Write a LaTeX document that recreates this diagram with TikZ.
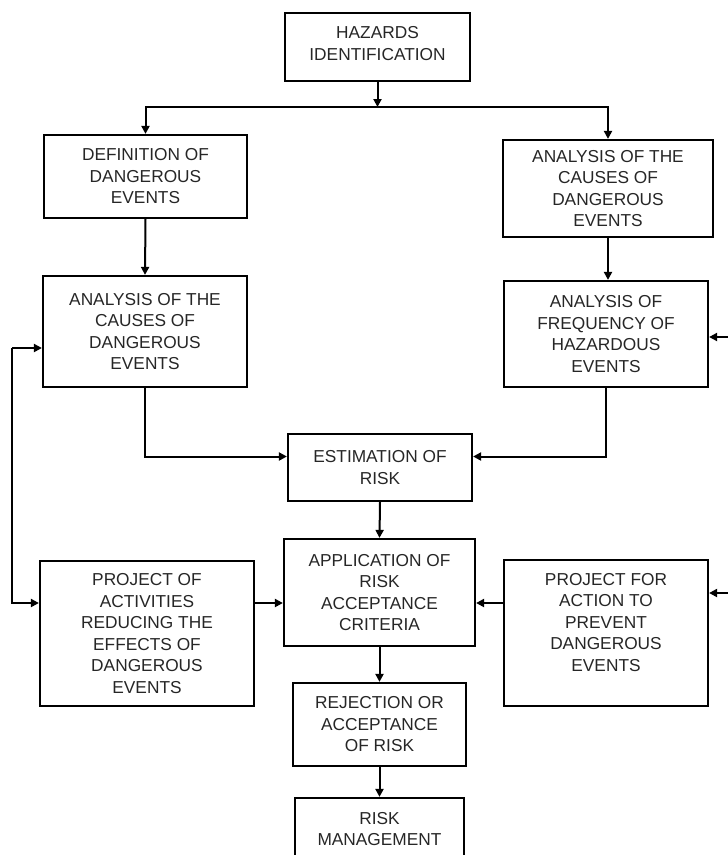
\documentclass[tikz,border=0pt]{standalone}
\usepackage{fontspec}
\setmainfont{Liberation Sans}
\usetikzlibrary{arrows.meta}
\begin{document}
\begin{tikzpicture}[x=1pt,y=-1pt,
  box/.style={draw, line width=2.2pt, align=center, inner sep=0pt,
    font=\fontsize{17.3}{21.5}\selectfont, text=black!85},
  arr/.style={line width=2pt, -{Triangle[length=8pt,width=8pt]}},
  ln/.style={line width=2pt}]
\useasboundingbox (0,0) rectangle (728,855);
\clip (0,0) rectangle (728,855);

\node[box, minimum width=185, minimum height=68, text depth=7pt] (haz) at (377.5,47) {HAZARDS\\IDENTIFICATION};
\node[box, minimum width=203, minimum height=83] (def) at (145.5,176.5) {DEFINITION OF\\DANGEROUS\\EVENTS};
\node[box, minimum width=210, minimum height=97] (car) at (608,188.5) {ANALYSIS OF THE\\CAUSES OF\\DANGEROUS\\EVENTS};
\node[box, minimum width=204, minimum height=111] (cal) at (145,331.5) {ANALYSIS OF THE\\CAUSES OF\\DANGEROUS\\EVENTS};
\node[box, minimum width=204, minimum height=106] (freq) at (606,334) {ANALYSIS OF\\FREQUENCY OF\\HAZARDOUS\\EVENTS};
\node[box, minimum width=184, minimum height=67] (est) at (380,467.5) {ESTIMATION OF\\RISK};
\node[box, minimum width=191, minimum height=107] (app) at (379.5,592.5) {APPLICATION OF\\RISK\\ACCEPTANCE\\CRITERIA};
\node[box, minimum width=214, minimum height=145] (pa) at (147,633.5) {PROJECT OF\\ACTIVITIES\\REDUCING THE\\EFFECTS OF\\DANGEROUS\\EVENTS};
\node[box, minimum width=204, minimum height=146, text depth=22pt] (pf) at (606,633) {PROJECT FOR\\ACTION TO\\PREVENT\\DANGEROUS\\EVENTS};
\node[box, minimum width=173, minimum height=83] (rej) at (379.5,724.5) {REJECTION OR\\ACCEPTANCE\\OF RISK};
\node[box, minimum width=169, minimum height=62] (rm) at (379.5,829) {RISK\\MANAGEMENT};

\coordinate (sp) at (377.5,107);
\draw[arr] (haz.south) -- (sp);
\draw[arr] (sp) -| (def.north);
\draw[arr] (sp) -| (car.north);
\draw[arr] (def.south) -- (cal.north);
\draw[arr] (car.south) -- (car.south |- freq.north);

\coordinate (me) at (380,456.5);
\draw[arr] (cal.south) |- (me -| est.west);
\draw[arr] (freq.south) |- (me -| est.east);
\draw[arr] (est.south) -- (app.north);

\coordinate (m1) at (380,603);
\draw[arr] (m1 -| pa.east) -- (m1 -| app.west);
\draw[arr] (m1 -| pf.west) -- (m1 -| app.east);

\coordinate (la) at (12,348);
\coordinate (lb) at (12,603);
\draw[arr] (la) -- (la -| cal.west);
\draw[arr] (la) -- (lb) -- (lb -| pa.west);

\coordinate (r1) at (729,337);
\coordinate (r2) at (729,593);
\draw[arr] (r1) -- (r1 -| freq.east);
\draw[arr] (r2) -- (r2 -| pf.east);

\draw[arr] (app.south) -- (rej.north);
\draw[arr] (rej.south) -- (rm.north);
\end{tikzpicture}
\end{document}
